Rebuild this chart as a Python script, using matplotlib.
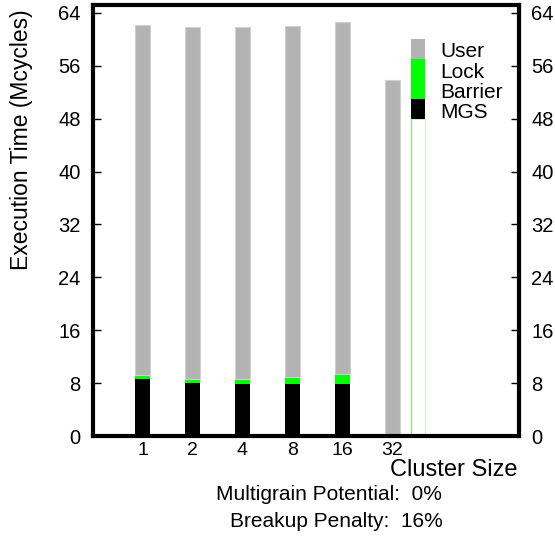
import matplotlib
matplotlib.use("Agg")
import matplotlib.pyplot as plt
import numpy as np

plt.rcParams['font.family'] = ['Liberation Sans', 'DejaVu Sans']

# data (Mcycles)
clusters = ['1', '2', '4', '8', '16', '32']
mgs = [8.6, 8.1, 7.8, 7.8, 7.9, 0.0]
lock = [0.0, 0.0, 0.0, 0.0, 0.0, 0.0]
barrier = [0.7, 0.55, 0.9, 1.15, 1.55, 0.0]
user = [52.9, 53.25, 53.2, 53.15, 53.15, 53.9]

leg_labels = ['User', 'Lock', 'Barrier', 'MGS']
leg_sizes = [3.0, 3.0, 3.0, 3.0]  # user, lock, barrier, mgs
leg_base = 48.0

c_user = '#b3b3b3'
c_lock = '#00ff00'
c_barrier = '#00ff00'
c_mgs = '#000000'

fig = plt.figure(figsize=(5.55, 5.39), dpi=100)
ax = fig.add_axes([0.1676, 0.191, 0.7674, 0.7997])

x = np.arange(len(clusters))
w = 0.3
mgs = np.array(mgs)
lock = np.array(lock)
barrier = np.array(barrier)
user = np.array(user)

ax.bar(x, mgs, w, color=c_mgs, edgecolor='none')
ax.bar(x, lock, w, bottom=mgs, color=c_lock, edgecolor='none')
ax.bar(x, barrier, w, bottom=mgs + lock, color=c_barrier, edgecolor='none')
ax.bar(x, user, w, bottom=mgs + lock + barrier, color=c_user,
       edgecolor='#d0d0d0', linewidth=0.8)

# legend drawn as a little stacked bar
lx = 5.51
ax.bar(lx, leg_base, w * 0.93, color='white', edgecolor='#d8ecd8', linewidth=0.8)
ax.plot([lx - w * 0.465, lx - w * 0.465], [0, leg_base], color='#90e090', lw=1)
b = leg_base
cols = [c_mgs, c_barrier, c_lock, c_user]
for size, col in zip(leg_sizes[::-1], cols):
    ax.bar(lx, size, w * 0.93, bottom=b, color=col, edgecolor='none')
    b += size
ty = [58.1, 55.0, 51.9, 49.0]
for lab, yy in zip(leg_labels, ty):
    ax.text(lx + 0.45, yy, lab, fontsize=15, va='center', ha='left')

ax.set_xlim(-0.99, 7.53)
ax.set_ylim(0, 65.2)
ax.set_xticks(x)
ax.set_xticklabels(clusters, fontsize=14)
ax.tick_params(axis='x', length=0, pad=4)
ax.set_yticks(np.arange(0, 65, 8))
ax.tick_params(axis='y', direction='in', length=6, width=1, labelsize=14.5,
               right=True, labelright=True, pad=9)
for s in ax.spines.values():
    s.set_linewidth(3)

fig.text(0.038, 0.74, 'Execution Time (Mcycles)', fontsize=16.5, rotation=90,
         ha='center', va='center')
fig.text(0.932, 0.128, 'Cluster Size', fontsize=17, ha='right', va='center')
fig.text(0.797, 0.082, 'Multigrain Potential:  0%', fontsize=15, ha='right', va='center')
fig.text(0.797, 0.032, 'Breakup Penalty:  16%', fontsize=15, ha='right', va='center')

fig.savefig('out.png', dpi=100)
